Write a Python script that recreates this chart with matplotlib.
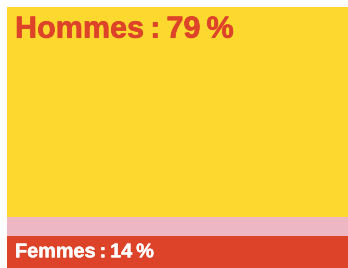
import matplotlib
matplotlib.use("Agg")
import matplotlib.pyplot as plt
import matplotlib.patheffects as pe

categories = ["Femmes", "Autres", "Hommes"]
values = [14, 7, 79]
colors = ["#DD4329", "#EDB8C3", "#FDD82F"]
labels = ["Femmes\u2009:\u200914\u2009%", None, "Hommes\u2009:\u200979\u2009%"]

W, H = 348, 268
fig = plt.figure(figsize=(W / 100, H / 100), dpi=100)
top_px, bot_px, left_px = 7, 273, 7
ax = fig.add_axes([left_px / W, 1 - bot_px / H, 1 - left_px / W, (bot_px - top_px) / H])

bottom = 0
for cat, v, c in zip(categories, values, colors):
    ax.bar(0, v, bottom=bottom, width=1.0, color=c, linewidth=0)
    bottom += v
ax.set_xlim(-0.5, 0.5)
ax.set_ylim(0, sum(values))
ax.axis("off")

fam = ["Liberation Sans", "DejaVu Sans"]
fig.text(15 / W, 1 - 37.7 / H, labels[2], color="#DD4329", fontsize=22,
         fontweight="bold", family=fam, va="baseline", ha="left",
         path_effects=[pe.withStroke(linewidth=0.45, foreground="#DD4329")])
fig.text(15 / W, 1 - 257.3 / H, labels[0], color="white", fontsize=14.3,
         fontweight="bold", family=fam, va="baseline", ha="left",
         path_effects=[pe.withStroke(linewidth=0.3, foreground="white")])

fig.savefig("out.png", dpi=100)
